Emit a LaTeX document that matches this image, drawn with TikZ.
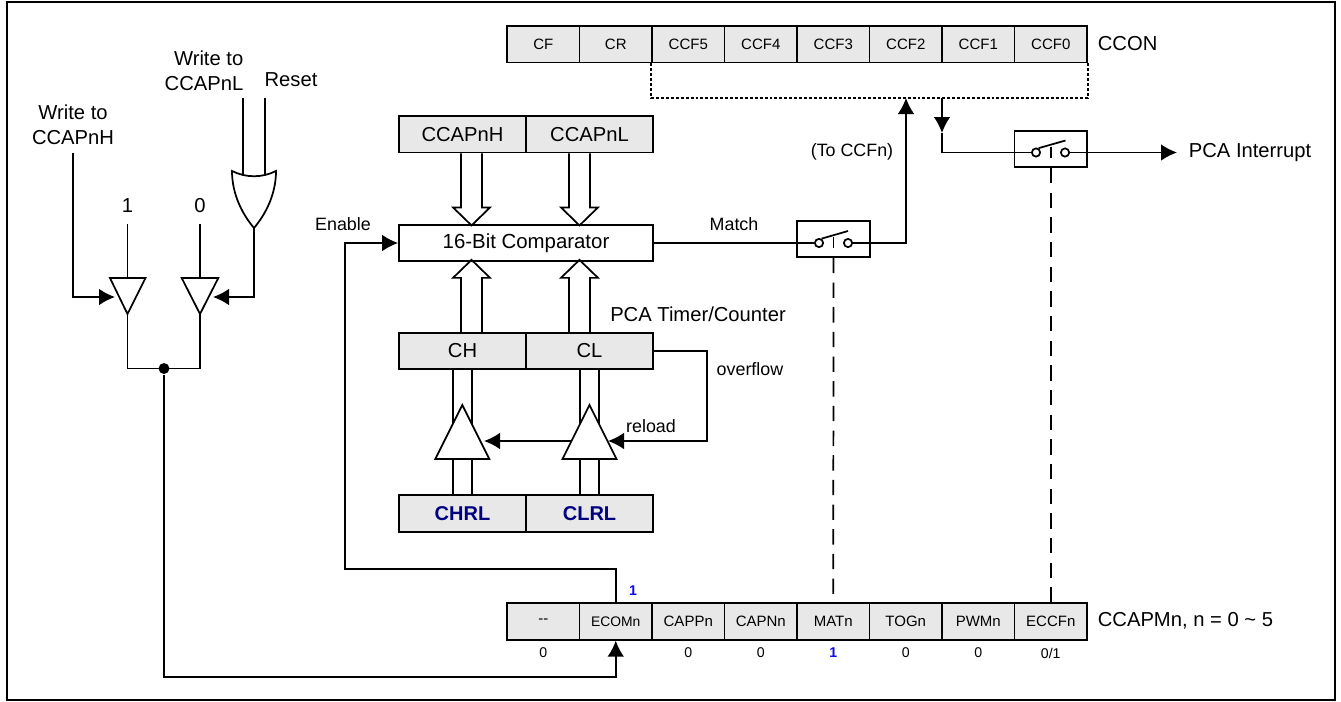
\documentclass[tikz,border=0pt]{standalone}
\usepackage{fontspec}
\setmainfont{Liberation Sans}
\usetikzlibrary{arrows.meta}
\definecolor{cellgray}{HTML}{E8E8E8}
\definecolor{inkblue}{HTML}{000080}
\definecolor{bitblue}{HTML}{0A0AF0}
\tikzset{
  bigtxt/.style={font=\fontsize{15.15}{18.75}\selectfont,inner sep=0pt},
  midtxt/.style={font=\fontsize{13.4}{16}\selectfont,inner sep=0pt},
  bittxt/.style={font=\fontsize{10.6}{12}\selectfont,inner sep=0pt},
  bitone/.style={font=\fontsize{10.6}{12}\selectfont\bfseries,text=bitblue,inner sep=0pt},
  regcell/.style={draw,fill=cellgray,minimum width=54.375pt,minimum height=27.4pt,inner sep=0pt,font=\fontsize{11.25}{13}\selectfont},
  widecell/.style={draw,fill=cellgray,minimum width=95.25pt,minimum height=27.4pt,inner sep=0pt,font=\fontsize{15.15}{18}\selectfont},
  switchbox/.style={draw,minimum width=54.375pt,minimum height=27pt,inner sep=0pt},
  contact/.style={draw,fill=white,circle,minimum size=6.2pt,inner sep=0pt},
  sigline/.style={line width=1.3pt},
  sigarrow/.style={line width=1.3pt,-{Latex[length=12pt,width=12.5pt]}},
  busline/.style={line width=1.3pt,line join=miter},
  ctrlline/.style={line width=1.3pt,dash pattern=on 11.5pt off 7pt},
  flagline/.style={line width=1.3pt,dash pattern=on 2.2pt off 1.5pt},
  gate/.style={line width=1.3pt,fill=white,line join=miter}
}
\begin{document}
\begin{tikzpicture}[x=0.75pt,y=-0.75pt,line width=1.3pt]
    \useasboundingbox (0,0) rectangle (1341,701);
    % marco
    \draw[line width=1.45pt] (7,2) rectangle (1335,700);

    % CCON
    \node[regcell] (cf) at (543.25,44.3) {CF};
    \node[regcell] (cr) at (615.75,44.3) {CR};
    \node[regcell] (ccf5) at (688.25,44.3) {CCF5};
    \node[regcell] (ccf4) at (760.75,44.3) {CCF4};
    \node[regcell] (ccf3) at (833.25,44.3) {CCF3};
    \node[regcell] (ccf2) at (905.75,44.3) {CCF2};
    \node[regcell] (ccf1) at (978.25,44.3) {CCF1};
    \node[regcell] (ccf0) at (1050.75,44.3) {CCF0};
    \node[bigtxt,anchor=west] (ccon) at (1097,44) {CCON};

    % CCAPMn
    \node[regcell] (dash) at (543.25,621.5) {{-}{-}};
    \node[regcell,font=\fontsize{10.4}{12}\selectfont] (ecom) at (615.75,621.5) {ECOMn};
    \node[regcell] (capp) at (688.25,621.5) {CAPPn};
    \node[regcell] (capn) at (760.75,621.5) {CAPNn};
    \node[regcell] (mat) at (833.25,621.5) {MATn};
    \node[regcell] (tog) at (905.75,621.5) {TOGn};
    \node[regcell] (pwm) at (978.25,621.5) {PWMn};
    \node[regcell] (eccf) at (1050.75,621.5) {ECCFn};
    \node[bigtxt,anchor=west] (ccapm) at (1097,621) {CCAPMn, n = 0 \textasciitilde{} 5};

    % valores de los bits
    \node[bitone] (ecomone) at (633,591) {1};
    \node[bittxt] (bitdash) at (543.25,653) {0};
    \node[bittxt] (bitcapp) at (688.25,653) {0};
    \node[bittxt] (bitcapn) at (760.75,653) {0};
    \node[bitone] (bitmat) at (833.25,653) {1};
    \node[bittxt] (bittog) at (905.75,653) {0};
    \node[bittxt] (bitpwm) at (978.25,653) {0};
    \node[bittxt] (biteccf) at (1050.75,653) {0/1};

    % registros de 16 bits
    \node[widecell] (ccaph) at (462.5,134.3) {CCAPnH};
    \node[widecell] (ccapl) at (589.5,134.3) {CCAPnL};
    \node[draw,minimum width=190.5pt,minimum height=27.4pt,inner sep=0pt,font=\fontsize{15.3}{18}\selectfont] (cmp) at (526,243) {16-Bit Comparator};
    \node[widecell] (ch) at (462.5,351) {CH};
    \node[widecell] (cl) at (589.5,351) {CL};
    \node[widecell,font=\fontsize{15}{18}\selectfont\bfseries,text=inkblue] (chrl) at (462.5,513.5) {CHRL};
    \node[widecell,font=\fontsize{15}{18}\selectfont\bfseries,text=inkblue] (clrl) at (589.5,513.5) {CLRL};

    % buses
    \draw[busline] ([xshift=-1.1pt]ccaph.south) -- ++(0,54) -- ++(-8,0) -- ++(18.5,18) -- ++(18.5,-18) -- ++(-8,0) -- ++(0,-54);
    \draw[busline] ([xshift=-15.4pt]ccapl.south) -- ++(0,54) -- ++(-8,0) -- ++(18.5,18) -- ++(18.5,-18) -- ++(-8,0) -- ++(0,-54);
    \draw[busline] ([xshift=-1.1pt]ch.north) -- ++(0,-54) -- ++(-8,0) -- ++(18.5,-18) -- ++(18.5,18) -- ++(-8,0) -- ++(0,54);
    \draw[busline] ([xshift=-15.4pt]cl.north) -- ++(0,-54) -- ++(-8,0) -- ++(18.5,-18) -- ++(18.5,18) -- ++(-8,0) -- ++(0,54);

    % recarga
    \draw[sigline] ([xshift=-6.9pt]ch.south) -- ([xshift=-6.9pt]chrl.north);
    \draw[sigline] ([xshift=6.9pt]ch.south) -- ([xshift=6.9pt]chrl.north);
    \draw[sigline] ([xshift=-6.9pt]cl.south) -- ([xshift=-6.9pt]clrl.north);
    \draw[sigline] ([xshift=6.9pt]cl.south) -- ([xshift=6.9pt]clrl.north);
    \coordinate (rlturn) at (707,441);
    \coordinate (rlright) at (608,441);
    \coordinate (rlleft) at (484,441);
    \draw[sigarrow] (rlright) -- (rlleft);
    \draw[gate] (462.3,405) -- (489.3,459) -- (435.3,459) -- cycle;
    \draw[gate] (589.5,405) -- (616.5,459) -- (562.5,459) -- cycle;
    \draw[sigarrow] (cl.east) -| (rlturn) -- (rlright);
    \node[midtxt] (overflow) at (750,369) {overflow};
    \node[midtxt] (reload) at (651,426) {reload};
    \node[bigtxt] (timer) at (698,314) {PCA Timer/Counter};

    % interruptores
    \node[switchbox] (swmatch) at (833.5,239) {};
    \node[contact] (swmatcha) at (819,243) {};
    \node[contact] (swmatchb) at (848,243) {};
    \draw[sigline] (swmatcha.60) -- (848,231);
    \draw[sigline] (833.5,237) -- (833.5,248);
    \node[switchbox] (swint) at (1050.75,149) {};
    \node[contact] (swinta) at (1036,152.5) {};
    \node[contact] (swintb) at (1065,152.5) {};
    \draw[sigline] (swinta.60) -- (1065.5,140.5);
    \draw[sigline] (1050.75,146.5) -- (1050.75,157.5);
    \draw[ctrlline] (swmatch.south) -- (mat.north);
    \draw[ctrlline] (swint.south) -- (eccf.north);

    % banderas
    \coordinate (flagup) at (906,98);
    \coordinate (flagdown) at (942,98);
    \coordinate (flagtip) at (942,133);
    \draw[flagline] (ccf5.south west) |- (flagup) -| (ccf0.south east);
    \draw[sigline] (cmp.east) -- (swmatcha);
    \draw[sigarrow] (swmatchb) -| (flagup);
    \draw[sigarrow] (flagdown) -- (flagtip);
    \draw[sigline] (flagtip) |- (swinta);
    \node[bigtxt,anchor=west,inner xsep=8.25pt] (pcaint) at (1177,152.5) {PCA Interrupt};
    \draw[sigarrow] (swintb) -- (pcaint.west);
    \node[midtxt] (match) at (734,224) {Match};
    \node[midtxt] (toccf) at (852,152) {(To CCFn)};

    % compuertas
    \coordinate (orleft) at (232,171);
    \coordinate (orright) at (276,171);
    \coordinate (orout) at (254,228);
    \coordinate (bufhen) at (115,297);
    \coordinate (buflen) at (213,297);
    \coordinate (bufhin) at (127.5,278);
    \coordinate (buflin) at (200,278);
    \coordinate (bufhout) at (127.5,314);
    \coordinate (bufloout) at (200,314);
    \coordinate (wrltop) at (243,98);
    \coordinate (rsttop) at (265,98);
    \node[bigtxt,align=center,inner ysep=5.5pt] (wrh) at (73,124.5) {Write to\\CCAPnH};
    \node[bigtxt,align=right] (wrl) at (204,71) {Write to\\CCAPnL};
    \node[bigtxt] (rst) at (291,80) {Reset};
    \node[bigtxt,inner ysep=7.5pt] (selone) at (127.5,206) {1};
    \node[bigtxt,inner ysep=7.5pt] (selzero) at (200,206) {0};
    \draw[sigline] (wrltop) -- (243,178);
    \draw[sigline] (rsttop) -- (265,178);
    \draw[gate] (orleft) .. controls (246,178) and (262,178) .. (orright) .. controls (276,195) and (265,215) .. (orout) .. controls (243,215) and (232,195) .. (orleft) -- cycle;
    \draw[sigline] (selone.south) -- (bufhin);
    \draw[sigline] (selzero.south) -- (buflin);
    \draw[gate] (110,278) -- (145.5,278) -- (bufhout) -- cycle;
    \draw[gate] (181.7,278) -- (218.3,278) -- (bufloout) -- cycle;
    \draw[sigarrow] (wrh.south) |- (bufhen);
    \draw[sigarrow] (orout) |- (buflen);
    \node[fill,circle,minimum size=8.2pt,inner sep=0pt] (tie) at (164,368.5) {};
    \draw[sigline] (bufhout) |- (tie.center) -| (bufloout);

    % habilitacion
    \coordinate (ecomturn) at (345,569);
    \coordinate (ecomback) at (164,677);
    \draw[sigarrow] (ecom.north) |- (ecomturn) |- (cmp.west);
    \draw[sigarrow] (tie) |- (ecomback) -| (ecom.south);
    \node[midtxt] (enable) at (343,224) {Enable};
\end{tikzpicture}
\end{document}
